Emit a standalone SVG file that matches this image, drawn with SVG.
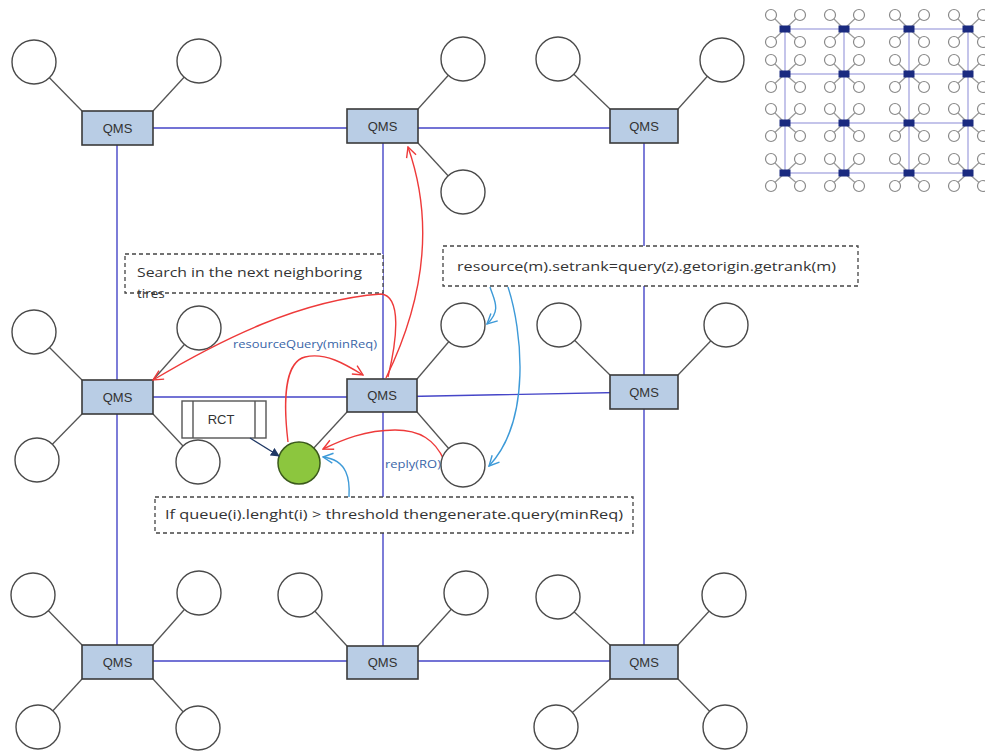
<svg xmlns="http://www.w3.org/2000/svg" xmlns:xlink="http://www.w3.org/1999/xlink" width="985" height="751" viewBox="0 0 985 751">
  <style>
    .grid { stroke: #4646c8; stroke-width: 1.4; fill: none; }
    .spoke { stroke: #555; stroke-width: 1.3; }
    .peer { fill: #fff; stroke: #4a4a4a; stroke-width: 1.4; }
    .qms rect { fill: #b9cde5; stroke: #3a3a3a; stroke-width: 1.6; }
    .qms text { font-family: "Liberation Sans", Arial, sans-serif; font-size: 13px; fill: #333; text-anchor: middle; }
    .note rect { fill: #fff; stroke: #444; stroke-width: 1.3; stroke-dasharray: 4 3; }
    .note text { font-family: "Open Sans", "Liberation Sans", sans-serif; font-size: 13.5px; fill: #333; }
    .red { stroke: #ee3a3a; stroke-width: 1.4; fill: none; marker-end: url(#redHead); }
    .blue { stroke: #3d9ad8; stroke-width: 1.4; fill: none; marker-end: url(#blueHead); }
    .lbl { font-family: "Open Sans", "Liberation Sans", sans-serif; font-size: 11px; fill: #3a66a8; }
    .mgrid { stroke: #c4c4ea; stroke-width: 2; fill: none; }
  </style>
  <defs>
    <marker id="redHead" viewBox="0 0 12 12" refX="11" refY="6" markerWidth="12" markerHeight="12" markerUnits="userSpaceOnUse" orient="auto">
      <path d="M1 1 L11 6 L1 11" fill="none" stroke="#ee3a3a" stroke-width="1.4"/>
    </marker>
    <marker id="blueHead" viewBox="0 0 12 12" refX="11" refY="6" markerWidth="12" markerHeight="12" markerUnits="userSpaceOnUse" orient="auto">
      <path d="M1 1 L11 6 L1 11" fill="none" stroke="#3d9ad8" stroke-width="1.4"/>
    </marker>
    <marker id="navyHead" viewBox="0 0 10 10" refX="9" refY="5" markerWidth="9" markerHeight="9" markerUnits="userSpaceOnUse" orient="auto">
      <path d="M0 0 L10 5 L0 10 Z" fill="#1f3864"/>
    </marker>
    <!-- small overview node: QMS square with four peers -->
    <g id="mini">
      <g stroke="#9a9a9a" stroke-width="1.2">
        <line x1="0" y1="0" x2="-14" y2="-14"/>
        <line x1="0" y1="0" x2="15" y2="-14"/>
        <line x1="0" y1="0" x2="-14" y2="13"/>
        <line x1="0" y1="0" x2="15" y2="13"/>
      </g>
      <g fill="#fff" stroke="#8a8a8a" stroke-width="1.2">
        <circle cx="-14" cy="-14" r="5.5"/>
        <circle cx="15" cy="-14" r="5.5"/>
        <circle cx="-14" cy="13" r="5.5"/>
        <circle cx="15" cy="13" r="5.5"/>
      </g>
      <rect x="-5.5" y="-3.5" width="11" height="7" fill="#1a2a80"/>
    </g>
  </defs>

  <rect width="985" height="751" fill="#fff"/>

  <!-- overview grid, top right -->
  <g id="overview">
    <path class="mgrid" d="M785 29 H968 M785 74 H968 M785 123 H968 M785 173 H968 M785 29 V173 M844 29 V173 M909 29 V173 M968 29 V173"/>
    <use xlink:href="#mini" x="785" y="29"/><use xlink:href="#mini" x="844" y="29"/><use xlink:href="#mini" x="909" y="29"/><use xlink:href="#mini" x="968" y="29"/>
    <use xlink:href="#mini" x="785" y="74"/><use xlink:href="#mini" x="844" y="74"/><use xlink:href="#mini" x="909" y="74"/><use xlink:href="#mini" x="968" y="74"/>
    <use xlink:href="#mini" x="785" y="123"/><use xlink:href="#mini" x="844" y="123"/><use xlink:href="#mini" x="909" y="123"/><use xlink:href="#mini" x="968" y="123"/>
    <use xlink:href="#mini" x="785" y="173"/><use xlink:href="#mini" x="844" y="173"/><use xlink:href="#mini" x="909" y="173"/><use xlink:href="#mini" x="968" y="173"/>
  </g>

  <!-- QMS backbone links -->
  <g id="connectors">
    <path class="grid" d="M117 128 H383 H644 M117 397 H383 L644 392 M117 661 H383 H644"/>
    <path class="grid" d="M117 128 V661 M383 126 V662 M644 126 V662"/>
  </g>

  <!-- peer spokes -->
  <g id="spokes" class="spoke">
    <line x1="82" y1="111" x2="34" y2="62"/><line x1="153" y1="111" x2="199" y2="61"/>
    <line x1="418" y1="109" x2="463" y2="59"/><line x1="418" y1="143" x2="463" y2="192"/>
    <line x1="610" y1="109" x2="558" y2="59"/><line x1="678" y1="109" x2="722" y2="60"/>
    <line x1="82" y1="380" x2="34" y2="332"/><line x1="153" y1="380" x2="199" y2="328"/>
    <line x1="82" y1="414" x2="37" y2="460"/><line x1="153" y1="414" x2="198" y2="462"/>
    <line x1="417" y1="379" x2="463" y2="325"/><line x1="417" y1="412" x2="463" y2="465"/>
    <line x1="347" y1="412" x2="300" y2="463"/>
    <line x1="610" y1="375" x2="559" y2="325"/><line x1="678" y1="375" x2="726" y2="325"/>
    <line x1="82" y1="645" x2="33" y2="595"/><line x1="153" y1="645" x2="199" y2="593"/>
    <line x1="82" y1="679" x2="38" y2="727"/><line x1="153" y1="679" x2="198" y2="728"/>
    <line x1="347" y1="646" x2="300" y2="595"/><line x1="418" y1="646" x2="466" y2="593"/>
    <line x1="610" y1="645" x2="558" y2="597"/><line x1="678" y1="645" x2="724" y2="595"/>
    <line x1="610" y1="679" x2="556" y2="727"/><line x1="678" y1="679" x2="725" y2="727"/>
  </g>

  <!-- peers -->
  <g id="peers" class="peer">
    <circle cx="34" cy="62" r="22"/><circle cx="199" cy="61" r="22"/>
    <circle cx="463" cy="59" r="22"/><circle cx="463" cy="192" r="22"/>
    <circle cx="558" cy="59" r="22"/><circle cx="722" cy="60" r="22"/>
    <circle cx="34" cy="332" r="22"/><circle cx="199" cy="328" r="22"/>
    <circle cx="37" cy="460" r="22"/><circle cx="198" cy="462" r="22"/>
    <circle cx="463" cy="325" r="22"/>
    <circle cx="559" cy="325" r="22"/><circle cx="726" cy="325" r="22"/>
    <circle cx="33" cy="595" r="22"/><circle cx="199" cy="593" r="22"/>
    <circle cx="38" cy="727" r="22"/><circle cx="198" cy="728" r="22"/>
    <circle cx="300" cy="595" r="22"/><circle cx="466" cy="593" r="22"/>
    <circle cx="558" cy="597" r="22"/><circle cx="724" cy="595" r="22"/>
    <circle cx="556" cy="727" r="22"/><circle cx="725" cy="727" r="22"/>
  </g>

  <!-- QMS nodes -->
  <g id="qms-top-left" class="qms"><rect x="82" y="111" width="71" height="34"/><text x="117.5" y="133">QMS</text></g>
  <g id="qms-top-mid" class="qms"><rect x="347" y="109" width="71" height="34"/><text x="382.5" y="131">QMS</text></g>
  <g id="qms-top-right" class="qms"><rect x="610" y="109" width="68" height="34"/><text x="644" y="131">QMS</text></g>
  <g id="qms-mid-left" class="qms"><rect x="82" y="380" width="71" height="34"/><text x="117.5" y="402">QMS</text></g>
  <g id="qms-center" class="qms"><rect x="347" y="379" width="70" height="33"/><text x="382" y="400">QMS</text></g>
  <g id="qms-mid-right" class="qms"><rect x="610" y="375" width="68" height="34"/><text x="644" y="397">QMS</text></g>
  <g id="qms-bottom-left" class="qms"><rect x="82" y="645" width="71" height="34"/><text x="117.5" y="667">QMS</text></g>
  <g id="qms-bottom-mid" class="qms"><rect x="347" y="646" width="71" height="33"/><text x="382.5" y="667">QMS</text></g>
  <g id="qms-bottom-right" class="qms"><rect x="610" y="645" width="68" height="34"/><text x="644" y="667">QMS</text></g>

  <!-- annotation boxes -->
  <g id="note-search" class="note">
    <rect x="125" y="254" width="258" height="39"/>
    <text x="137" y="277" textLength="225" lengthAdjust="spacingAndGlyphs">Search in the next neighboring</text>
    <text x="137" y="298">tires</text>
  </g>
  <g id="note-setrank" class="note">
    <rect x="443" y="246" width="415" height="40"/>
    <text x="457" y="271" textLength="379" lengthAdjust="spacingAndGlyphs">resource(m).setrank=query(z).getorigin.getrank(m)</text>
  </g>
  <g id="note-query" class="note">
    <rect x="155" y="497" width="478" height="36"/>
    <text x="165" y="519" textLength="458" lengthAdjust="spacingAndGlyphs">If queue(i).lenght(i) &gt; threshold thengenerate.query(minReq)</text>
  </g>

  <!-- RCT table -->
  <g id="rct">
    <rect x="182" y="401" width="84" height="37" fill="#fff" stroke="#555" stroke-width="1.4"/>
    <line x1="193" y1="401" x2="193" y2="438" stroke="#555" stroke-width="1.4"/>
    <line x1="255" y1="401" x2="255" y2="438" stroke="#555" stroke-width="1.4"/>
    <text x="221" y="424" font-family="Liberation Sans, Arial, sans-serif" font-size="13" fill="#333" text-anchor="middle">RCT</text>
  </g>

  <!-- requesting node -->
  <g id="requester">
    <circle cx="299" cy="463" r="21" fill="#8cc63e" stroke="#3b5a1c" stroke-width="1.5"/>
  </g>

  <!-- message flows -->
  <g id="flows">
    <path class="red" d="M386 378 Q446 255 408 147"/>
    <path class="red" d="M388 377 C397 340 402 296 381 294 C300 300 220 340 153 380"/>
    <path class="red" d="M288 442 C283 400 285 362 305 357 C325 352 345 364 363 375"/>
    <path class="red" d="M444 460 C435 440 420 430 395 430 C365 430 342 440 323 449"/>
    <path class="blue" d="M490 287 C494 300 502 310 487 324"/>
    <path class="blue" d="M508 287 C522 330 532 420 489 466"/>
    <path class="blue" d="M349 497 C350 480 348 460 323 457"/>
    <path d="M250 438 L279 456" stroke="#1f3864" stroke-width="1.4" fill="none" marker-end="url(#navyHead)"/>
  </g>

  <!-- message labels -->
  <text class="lbl" x="233" y="348" textLength="144" lengthAdjust="spacingAndGlyphs">resourceQuery(minReq)</text>
  <text class="lbl" x="385" y="468" textLength="56" lengthAdjust="spacingAndGlyphs">reply(RO)</text>

  <!-- reply peer drawn over its label -->
  <g id="reply-peer" class="peer"><circle cx="463" cy="465" r="22"/></g>
</svg>
